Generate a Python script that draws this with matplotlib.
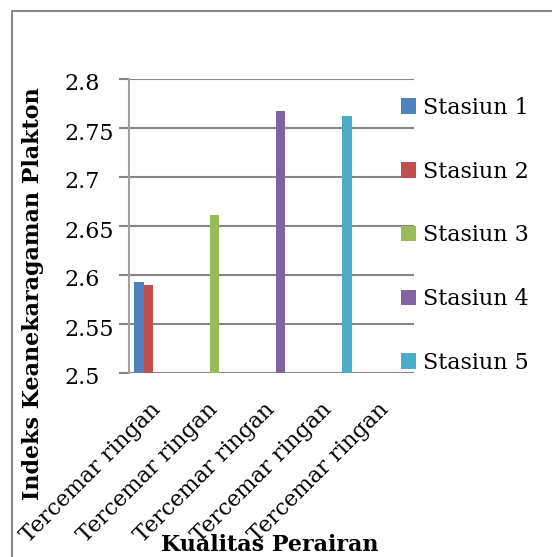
import numpy as np
from matplotlib import pyplot as plt
from matplotlib.patches import Rectangle
from matplotlib.transforms import ScaledTranslation

categories = ["Tercemar ringan"] * 5
series = ["Stasiun 1", "Stasiun 2", "Stasiun 3", "Stasiun 4", "Stasiun 5"]
nan = np.nan
stasiun_1 = [2.593, nan, nan, nan, nan]
stasiun_2 = [2.590, nan, nan, nan, nan]
stasiun_3 = [nan, 2.661, nan, nan, nan]
stasiun_4 = [nan, nan, 2.767, nan, nan]
stasiun_5 = [nan, nan, nan, 2.762, nan]
colors = ["#4f81bd", "#c0504d", "#9bbb59", "#8064a2", "#4bacc6"]
yticks = [2.5, 2.55, 2.6, 2.65, 2.7, 2.75, 2.8]

plt.rcParams['font.family'] = ['DejaVu Serif']
W, H = 552, 557

fig = plt.figure(figsize=(W / 100, H / 100), dpi=100)
ax = fig.add_axes([129 / W, 1 - 373 / H, (414 - 129) / W, (373 - 79) / H])

grid_c = "#868686"
values = [stasiun_1, stasiun_2, stasiun_3, stasiun_4, stasiun_5]
x = np.arange(len(categories))
w = 0.163
for j, (name, vals) in enumerate(zip(series, values)):
    ax.bar(x + (j - 2) * w, np.array(vals) - 2.5, bottom=2.5, width=w,
           color=colors[j], label=name, zorder=3)

ax.set_xlim(-0.5, len(categories) - 0.5)
ax.set_ylim(2.5, 2.8)
ax.set_yticks(yticks)
ax.set_yticklabels([f"{t:g}" for t in yticks], fontsize=16, ha="left")
ax.yaxis.grid(True, color=grid_c, linewidth=1.5, zorder=0)
for s in ["top", "right", "bottom"]:
    ax.spines[s].set_visible(False)
ax.spines["left"].set_color("#a0a0a0")
ax.spines["left"].set_linewidth(1.5)
ax.tick_params(axis="y", length=7, width=1.5, color=grid_c, pad=(129 - 7 - 67) * 0.72)
ax.tick_params(axis="x", length=0, pad=18)
ax.set_xticks(x)
ax.set_xticklabels(categories, fontsize=16, rotation=45, ha="right",
                   va="top", rotation_mode="anchor")
shift_x = ScaledTranslation(-8 / 100, 0, fig.dpi_scale_trans)
for lab in ax.get_xticklabels():
    lab.set_transform(lab.get_transform() + shift_x)
shift_y = ScaledTranslation(0, -3 / 100, fig.dpi_scale_trans)
for lab in ax.get_yticklabels():
    lab.set_transform(lab.get_transform() + shift_y)

ax.legend(loc="upper left", bbox_to_anchor=(392 / W, 1 - 88 / H),
          bbox_transform=fig.transFigure, frameon=False, fontsize=16,
          handlelength=0.7, handleheight=0.7, handletextpad=0.3,
          labelspacing=1.88, borderaxespad=0)

fig.text(33 / W, 1 - 294 / H, "Indeks Keanekaragaman Plakton", rotation=90,
         ha="center", va="center", fontsize=16, fontweight="bold")
fig.text(270 / W, 1 - 545 / H, "Kualitas Perairan", ha="center", va="center",
         fontsize=16, fontweight="bold")

fig.patches.append(Rectangle((12 / W, -0.5), 2, 1.5 - 11 / H, transform=fig.transFigure,
                             fill=False, edgecolor="#888888", linewidth=1.5))

fig.savefig("out.png", dpi=100)
